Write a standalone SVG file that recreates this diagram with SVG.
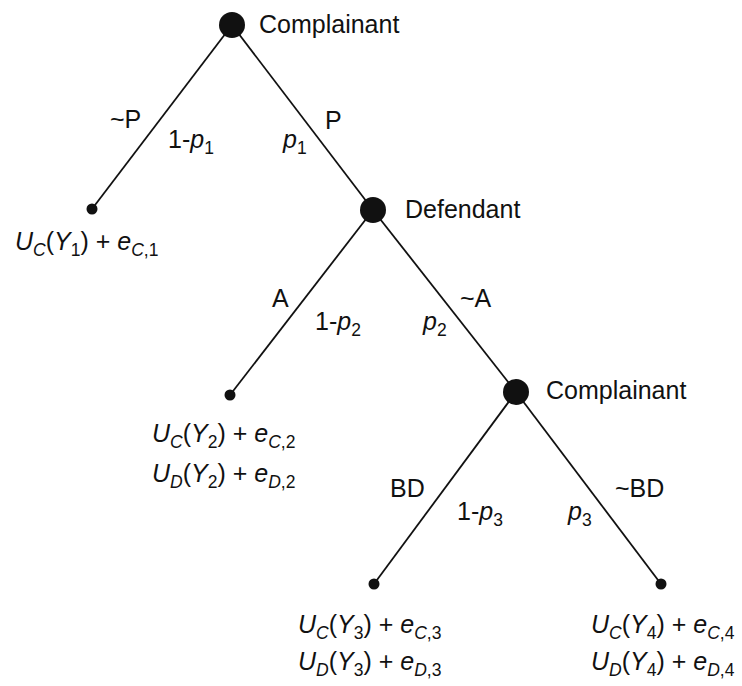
<svg xmlns="http://www.w3.org/2000/svg" width="742" height="686" viewBox="0 0 742 686">
<style>
text{font-family:"Liberation Sans",Arial,sans-serif;font-size:25px;fill:#111}
.i{font-style:italic}
.s{font-size:17.5px}
.edge{stroke:#111;stroke-width:1.8;fill:none}
.dec{fill:#111}
.leaf{fill:#111}
</style>
<rect width="742" height="686" fill="#fff"/>
<g id="connectors">
<line class="edge" x1="232" y1="25" x2="92" y2="209"/>
<line class="edge" x1="232" y1="25" x2="373" y2="210"/>
<line class="edge" x1="373" y1="210" x2="230" y2="395"/>
<line class="edge" x1="373" y1="210" x2="516" y2="392"/>
<line class="edge" x1="516" y1="392" x2="374" y2="584"/>
<line class="edge" x1="516" y1="392" x2="661" y2="584"/>
<text x="110" y="128">~P</text>
<text x="168" y="148">1-<tspan class="i">p</tspan><tspan class="s" dy="6">1</tspan></text>
<text x="283" y="148"><tspan class="i">p</tspan><tspan class="s" dy="6">1</tspan></text>
<text x="325" y="129">P</text>
<text x="272" y="307">A</text>
<text x="315" y="330">1-<tspan class="i">p</tspan><tspan class="s" dy="6">2</tspan></text>
<text x="423" y="330"><tspan class="i">p</tspan><tspan class="s" dy="6">2</tspan></text>
<text x="460" y="307">~A</text>
<text x="390" y="497">BD</text>
<text x="457" y="520">1-<tspan class="i">p</tspan><tspan class="s" dy="6">3</tspan></text>
<text x="568" y="520"><tspan class="i">p</tspan><tspan class="s" dy="6">3</tspan></text>
<text x="615" y="497">~BD</text>
</g>
<g id="n-root">
<circle class="dec" cx="232" cy="25" r="13"/>
<text x="259" y="33">Complainant</text>
</g>
<g id="n-leaf1">
<circle class="leaf" cx="92" cy="209" r="5.5"/>
<text x="15" y="250"><tspan class="i">U</tspan><tspan class="s i" dy="6">C</tspan><tspan dy="-6">(</tspan><tspan class="i">Y</tspan><tspan class="s" dy="6">1</tspan><tspan dy="-6">) + </tspan><tspan class="i">e</tspan><tspan class="s" dy="6"><tspan class="i">C</tspan>,1</tspan></text>
</g>
<g id="n-defendant">
<circle class="dec" cx="373" cy="210" r="13"/>
<text x="405" y="218">Defendant</text>
</g>
<g id="n-leaf2">
<circle class="leaf" cx="230" cy="395" r="5.5"/>
<text x="152" y="442"><tspan class="i">U</tspan><tspan class="s i" dy="6">C</tspan><tspan dy="-6">(</tspan><tspan class="i">Y</tspan><tspan class="s" dy="6">2</tspan><tspan dy="-6">) + </tspan><tspan class="i">e</tspan><tspan class="s" dy="6"><tspan class="i">C</tspan>,2</tspan></text>
<text x="152" y="482"><tspan class="i">U</tspan><tspan class="s i" dy="6">D</tspan><tspan dy="-6">(</tspan><tspan class="i">Y</tspan><tspan class="s" dy="6">2</tspan><tspan dy="-6">) + </tspan><tspan class="i">e</tspan><tspan class="s" dy="6"><tspan class="i">D</tspan>,2</tspan></text>
</g>
<g id="n-complainant2">
<circle class="dec" cx="516" cy="392" r="13"/>
<text x="546" y="399">Complainant</text>
</g>
<g id="n-leaf3">
<circle class="leaf" cx="374" cy="584" r="5.5"/>
<text x="298" y="633"><tspan class="i">U</tspan><tspan class="s i" dy="6">C</tspan><tspan dy="-6">(</tspan><tspan class="i">Y</tspan><tspan class="s" dy="6">3</tspan><tspan dy="-6">) + </tspan><tspan class="i">e</tspan><tspan class="s" dy="6"><tspan class="i">C</tspan>,3</tspan></text>
<text x="298" y="670"><tspan class="i">U</tspan><tspan class="s i" dy="6">D</tspan><tspan dy="-6">(</tspan><tspan class="i">Y</tspan><tspan class="s" dy="6">3</tspan><tspan dy="-6">) + </tspan><tspan class="i">e</tspan><tspan class="s" dy="6"><tspan class="i">D</tspan>,3</tspan></text>
</g>
<g id="n-leaf4">
<circle class="leaf" cx="661" cy="584" r="5.5"/>
<text x="591" y="633"><tspan class="i">U</tspan><tspan class="s i" dy="6">C</tspan><tspan dy="-6">(</tspan><tspan class="i">Y</tspan><tspan class="s" dy="6">4</tspan><tspan dy="-6">) + </tspan><tspan class="i">e</tspan><tspan class="s" dy="6"><tspan class="i">C</tspan>,4</tspan></text>
<text x="591" y="670"><tspan class="i">U</tspan><tspan class="s i" dy="6">D</tspan><tspan dy="-6">(</tspan><tspan class="i">Y</tspan><tspan class="s" dy="6">4</tspan><tspan dy="-6">) + </tspan><tspan class="i">e</tspan><tspan class="s" dy="6"><tspan class="i">D</tspan>,4</tspan></text>
</g>
</svg>
